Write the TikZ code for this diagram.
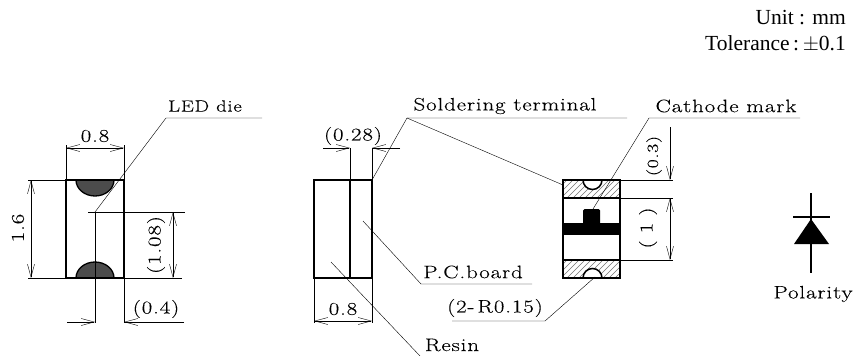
\documentclass[tikz,border=0pt]{standalone}
\usepackage{fontspec}
\usetikzlibrary{arrows.meta}
\newfontfamily\timesf{Liberation Serif}
\newfontfamily\widef[FakeStretch=1.27,LetterSpace=5,FakeBold=0.25]{Latin Modern Roman}
\definecolor{thin}{HTML}{666666}
\tikzset{
  x=1pt,y=-1pt,
  body/.style={line width=2.2pt,black,line join=miter},
  dimline/.style={line width=0.8pt,thin},
  dimarrow/.style={line width=0.8pt,thin,{Straight Barb[length=13pt,width=7pt]}-{Straight Barb[length=13pt,width=7pt]}},
  onearrow/.style={line width=0.8pt,thin,-{Straight Barb[length=13pt,width=7pt]}},
  leader/.style={line width=0.8pt,thin},
  lbl/.style={font=\widef\fontsize{18}{20}\selectfont,text=black,inner sep=0pt},
  lblsmall/.style={font=\widef\fontsize{16.2}{18}\selectfont,text=black,inner sep=0pt},
  lbltiny/.style={font=\widef\fontsize{15.5}{17}\selectfont,text=black,inner sep=0pt},
  note/.style={font=\timesf\fontsize{21.5}{23}\selectfont,text=black,inner sep=0pt,anchor=east},
  hatch/.style={line width=0.5pt,black!55},
}
\begin{document}
\begin{tikzpicture}
\useasboundingbox (0,0) rectangle (857,356);
% notes
\node[note] (unit) at (846,18) {Unit : mm};
\node[note] (tol) at (846,44) {Tolerance\,:\,$\pm$0.1};
% ---------- left view
\fill[black!70] (76,180) arc[start angle=180,end angle=0,x radius=19,y radius=16] -- cycle;
\fill[black!70] (76,278) arc[start angle=180,end angle=360,x radius=19,y radius=16] -- cycle;
\draw[line width=1.3pt] (76,180) arc[start angle=180,end angle=0,x radius=19,y radius=16];
\draw[line width=1.3pt] (76,278) arc[start angle=180,end angle=360,x radius=19,y radius=16];
\draw[dimline] (66,180) -- (66,145) (124,180) -- (124,145);
\draw[dimarrow] (66,148) -- (124,148);
\node[lbl] (d08a) at (95,136) {0.8};
\draw[dimline] (28,180) -- (66,180) (28,278) -- (66,278);
\draw[dimarrow] (31,180) -- (31,278);
\node[lbl,rotate=90] (d16) at (18,228) {1.6};
\draw[dimline] (88,212) -- (185,212) (124,278) -- (182,278);
\draw[dimarrow] (173,212) -- (173,278);
\node[lbl,rotate=90] (d108) at (156,245) {(1.08)};
\draw[dimline] (95,212) -- (95,323) (124,278) -- (124,323);
\draw[onearrow] (67,322) -- (95,322);
\draw[onearrow] (184,322) -- (124,322);
\node[lbl] (d04) at (156,309) {(0.4)};
\coordinate (dieTip) at (95,212);
\coordinate (dieKnee) at (166,118);
\coordinate (dieEnd) at (262,118);
\draw[leader] (dieTip) -- (dieKnee) -- (dieEnd);
\node[lblsmall] (die) at (205,106) {LED die};
\draw[body] (66,180) rectangle (124,278);
% ---------- middle view
\draw[body] (314,180) rectangle (372,278);
\draw[body] (350,180) -- (350,278);
\draw[dimline] (350,180) -- (350,148) (372,180) -- (372,148);
\draw[onearrow] (323,148) -- (350,148);
\draw[onearrow] (400,148) -- (372,148);
\node[lbl] (d028) at (353,136) {(0.28)};
\draw[dimline] (314,278) -- (314,323) (372,278) -- (372,323);
\draw[dimarrow] (314,321) -- (372,321);
\node[lbl] (d08b) at (343,309) {0.8};
\coordinate (solA) at (372,180);
\coordinate (solKnee) at (407,118);
\coordinate (solEnd) at (627,118);
\coordinate (solB) at (563,185);
\draw[leader] (solA) -- (solKnee) -- (solEnd);
\draw[leader] (solKnee) -- (solB);
\node[lbl] (sol) at (505,106) {Soldering terminal};
\coordinate (pcA) at (363,221);
\coordinate (pcKnee) at (421,284);
\coordinate (pcEnd) at (532,284);
\draw[leader] (pcA) -- (pcKnee) -- (pcEnd);
\node[lbl] (pc) at (473,272) {P.C.board};
\coordinate (resA) at (331,262);
\coordinate (resEnd) at (420,356);
\draw[leader] (resA) -- (resEnd);
\node[lbl] (res) at (452,345) {Resin};
% ---------- right view
\begin{scope}
\clip (563,180) rectangle (620,198);
\foreach \i in {0,6,...,96} \draw[hatch] (535+\i,200) -- (535+\i+22,178);
\end{scope}
\begin{scope}
\clip (563,260) rectangle (620,278);
\foreach \i in {0,6,...,96} \draw[hatch] (535+\i,280) -- (535+\i+22,258);
\end{scope}
\fill[white] (583,180) arc[start angle=180,end angle=0,x radius=9.5,y radius=9.5] -- cycle;
\draw[line width=1.5pt] (583,180) arc[start angle=180,end angle=0,x radius=9.5,y radius=9.5];
\fill[white] (583,278) arc[start angle=180,end angle=360,x radius=9.5,y radius=9.5] -- cycle;
\draw[line width=1.5pt] (583,278) arc[start angle=180,end angle=360,x radius=9.5,y radius=9.5];
\fill[black] (563,223) rectangle (620,235);
\fill[black,rounded corners=1.5pt] (583,225) -- (583,209) -- (600,209) -- (600,225) -- cycle;
\draw[body] (563,180) rectangle (620,278);
\draw[line width=1.6pt] (563,198) -- (620,198) (563,260) -- (620,260);
\coordinate (catTip) at (593,209);
\coordinate (catKnee) at (649,118);
\coordinate (catEnd) at (800,118);
\draw[leader] (catTip) -- (catKnee) -- (catEnd);
\node[lbl] (cat) at (726,106) {Cathode mark};
\draw[dimline] (620,180) -- (673,180) (620,198) -- (673,198) (620,260) -- (673,260);
\draw[onearrow] (670,127) -- (670,180);
\draw[dimarrow] (670,198) -- (670,260);
\node[lbltiny,rotate=90] (d03) at (654,156) {(0.3)};
\node[lbl,rotate=90] (d1) at (648,228) {(\hspace{0.4em}1\hspace{0.4em})};
\coordinate (rA) at (452,321);
\coordinate (rKnee) at (545,321);
\coordinate (rTip) at (595,277);
\draw[leader] (rA) -- (rKnee) -- (rTip);
\node[lbl] (r015) at (495,308) {(2-\,R0.15)};
% ---------- diode
\draw[line width=1.8pt] (811,193) -- (811,273);
\draw[line width=1.8pt] (793,217) -- (830,217);
\fill[black] (811,219) -- (829,244) -- (794,244) -- cycle;
\node[lbl] (pol) at (813,294) {Polarity};
\end{tikzpicture}
\end{document}
